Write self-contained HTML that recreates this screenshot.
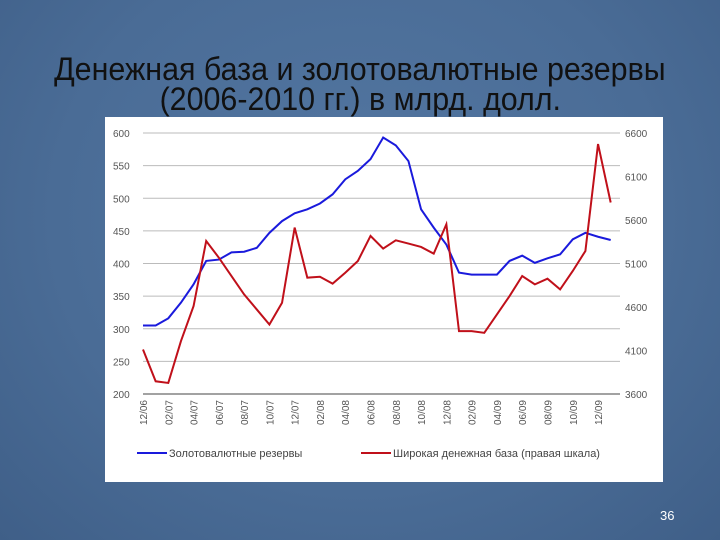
<!DOCTYPE html>
<html><head><meta charset="utf-8"><style>
body{margin:0;width:720px;height:540px;overflow:hidden;background:#4c6f99;font-family:"Liberation Sans",sans-serif;}
#bg{position:absolute;left:0;top:0;width:720px;height:540px;background:radial-gradient(ellipse at 50% 40%,#5377a2 0%,#4a6c96 60%,#3f5f88 100%);}
.t{position:absolute;left:0;width:720px;text-align:center;color:#111;font-size:32px;white-space:nowrap;}
.t span{display:inline-block;transform:scaleX(0.95);}
#chart{position:absolute;left:105px;top:117px;width:558px;height:365px;background:#fff;}
#pg{position:absolute;left:660px;top:508px;color:#fff;font-size:13px;}
</style></head><body>
<div id="bg"></div>
<div class="t" style="top:51px"><span>Денежная база и золотовалютные резервы</span></div>
<div class="t" style="top:81px"><span>(2006-2010 гг.) в млрд. долл.</span></div>
<div id="chart">
<svg id="svg" width="558" height="365" xmlns="http://www.w3.org/2000/svg"></svg>
</div>
<div id="pg">36</div>
<script>
const monthsLabels=["12/06","02/07","04/07","06/07","08/07","10/07","12/07","02/08","04/08","06/08","08/08","10/08","12/08","02/09","04/09","06/09","08/09","10/09","12/09"];
const leftTicks=[200,250,300,350,400,450,500,550,600];
const rightTicks=[3600,4100,4600,5100,5600,6100,6600];
const reserves=[305,305,316,340,368,404,406,417,418,424,447,465,477,483,492,506,529,542,560,593,581,557,483,455,429,386,383,383,383,404,412,401,408,414,437,447,441,436];
const moneyBase=[4111,3746,3727,4207,4610,5359,5167,4956,4745,4572,4399,4649,5513,4937,4948,4868,4994,5129,5417,5271,5367,5329,5290,5213,5551,4322,4322,4303,4514,4726,4956,4860,4925,4802,5014,5244,6473,5801];
const NS="http://www.w3.org/2000/svg";
const svg=document.getElementById('svg');
const X0=38,DX=12.64,YT=16,YB=277;
const xs=i=>X0+DX*i;
const yL=v=>YB-(v-200)/400*(YB-YT);
const yR=v=>YB-(v-3600)/3000*(YB-YT);
function mk(tag,at){const e=document.createElementNS(NS,tag);for(const k in at)e.setAttribute(k,at[k]);svg.appendChild(e);return e;}
leftTicks.forEach(v=>{
 const l=mk('line',{x1:38,x2:515,y1:yL(v),y2:yL(v),stroke:v===200?'#444':'#bbb','stroke-width':1});
 
 
 const t=mk('text',{x:8,y:yL(v)+4,'font-size':10,fill:'#555','font-family':'Liberation Sans, sans-serif'});
 t.textContent=v;
 
 
});
rightTicks.forEach(v=>{
 const t=mk('text',{x:520,y:yR(v)+4,'font-size':10,fill:'#555','font-family':'Liberation Sans, sans-serif'});
 t.textContent=v;
 
 
});
monthsLabels.forEach((s,k)=>{
 const x=xs(k*2)+4,y=YB+6;
 const t=mk('text',{x:x,y:y,'font-size':10,fill:'#555','text-anchor':'end','font-family':'Liberation Sans, sans-serif',transform:`rotate(-90 ${x} ${y})`});
 t.textContent=s;
 
 
});
const p1=mk('polyline',{points:reserves.map((v,i)=>xs(i)+','+yL(v)).join(' '),fill:'none',stroke:'#1a1adc','stroke-width':2});


const p2=mk('polyline',{points:moneyBase.map((v,i)=>xs(i)+','+yR(v)).join(' '),fill:'none',stroke:'#c0101a','stroke-width':2});


const g1=mk('line',{x1:32,x2:62,y1:336,y2:336,stroke:'#1a1adc','stroke-width':2});


const l1=mk('text',{x:64,y:340,'font-size':11,fill:'#444','font-family':'Liberation Sans, sans-serif'});
l1.textContent='Золотовалютные резервы';


const g2=mk('line',{x1:256,x2:286,y1:336,y2:336,stroke:'#c0101a','stroke-width':2});


const l2=mk('text',{x:288,y:340,'font-size':11,fill:'#444','font-family':'Liberation Sans, sans-serif'});
l2.textContent='Широкая денежная база (правая шкала)';


</script>
</body></html>
